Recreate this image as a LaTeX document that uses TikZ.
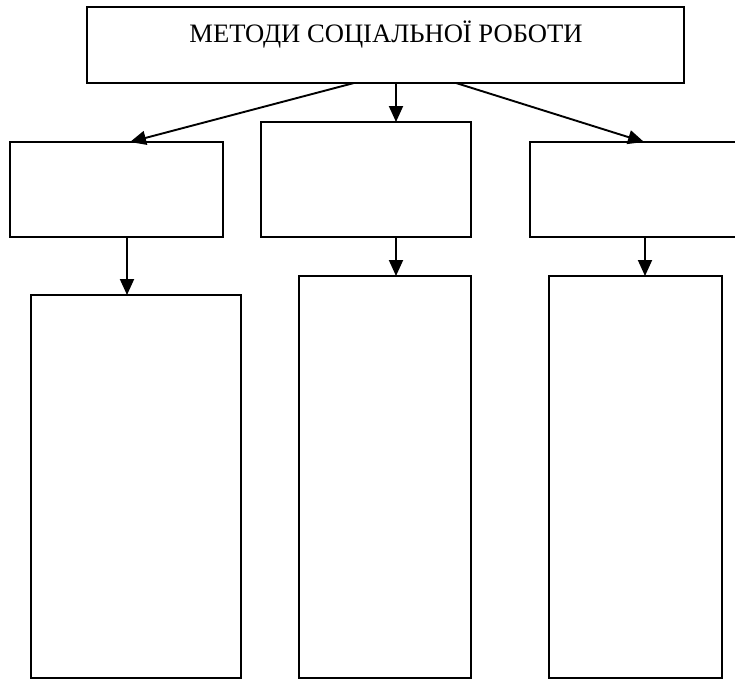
\documentclass[tikz,border=0pt]{standalone}
\usepackage{fontspec}
\setmainfont{Liberation Serif}
\usetikzlibrary{arrows.meta,calc}
\begin{document}
\begin{tikzpicture}[x=1pt,y=-1pt,
  box/.style={draw,line width=1.9pt,inner sep=0pt,outer sep=0pt,anchor=north west},
  arr/.style={line width=1.9pt,-{Triangle[length=16pt,width=14pt]}}]
\useasboundingbox[fill=white] (0,0) rectangle (735,680);
\clip (0,0) rectangle (735,680);
\node[box,minimum width=597pt,minimum height=76pt] (top) at (87,7) {};
\node[anchor=base,font=\fontsize{26.6}{30}\selectfont,inner sep=0pt] (title) at (386,42) {МЕТОДИ СОЦІАЛЬНОЇ РОБОТИ};
\node[box,minimum width=213pt,minimum height=95pt] (l1) at (10,142) {};
\node[box,minimum width=210pt,minimum height=115pt] (c1) at (261,122) {};
\node[box,minimum width=220pt,minimum height=95pt] (r1) at (530,142) {};
\node[box,minimum width=210pt,minimum height=383pt] (l2) at (31,295) {};
\node[box,minimum width=172pt,minimum height=402pt] (c2) at (299,276) {};
\node[box,minimum width=173pt,minimum height=402pt] (r2) at (549,276) {};
\draw[arr] ([xshift=-31.5pt]top.south) -- ([xshift=120pt]l1.north west);
\draw[arr] ([xshift=10.5pt]top.south) -- ([xshift=135pt]c1.north west);
\draw[arr] ([xshift=70.5pt]top.south) -- ([xshift=114pt]r1.north west);
\draw[arr] ([xshift=117pt]l1.south west) -- ([xshift=96pt]l2.north west);
\draw[arr] ([xshift=135pt]c1.south west) -- ([xshift=97pt]c2.north west);
\draw[arr] ([xshift=115pt]r1.south west) -- ([xshift=96pt]r2.north west);
\end{tikzpicture}
\end{document}
